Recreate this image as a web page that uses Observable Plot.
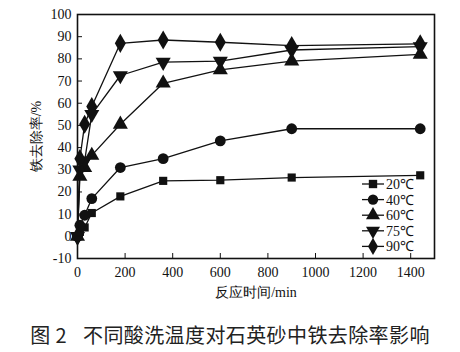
<!DOCTYPE html>
<html>
<head>
<meta charset="utf-8">
<script src="https://cdn.jsdelivr.net/npm/d3@7"></script>
<script src="https://cdn.jsdelivr.net/npm/@observablehq/plot@0.6"></script>
<style>
  body { margin: 0; background: #fff; }
  #chart { width: 460px; }
  #chart svg, #chart svg text { font-family: 'Liberation Serif', 'Times New Roman', serif !important; }
  .caption { font-family: "Noto Sans CJK SC", sans-serif; font-size: 20px; color: #222; text-align: center; padding-top: 15px; letter-spacing: 0.4px; }
</style>
</head>
<body>
<div id="chart"></div>
<script>
const times = [0, 10, 30, 60, 180, 360, 600, 900, 1440];
const seriesNames = ["20℃", "40℃", "60℃", "75℃", "90℃"];
const v20 = [0, 2, 4, 10.5, 18, 25, 25.3, 26.5, 27.5];
const v40 = [0, 5, 9.5, 17, 31, 35, 43, 48.5, 48.5];
const v60 = [0, 27, 31, 36.5, 50.5, 69, 75, 79, 82];
const v75 = [0, 30, 34, 55, 72.5, 78.5, 79, 84, 85.5];
const v90 = [0, 35, 50.5, 58.5, 87, 88.5, 87.5, 86, 86.8];
const xTicks = [0, 200, 400, 600, 800, 1000, 1200, 1400];
const yTicks = [-10, 0, 10, 20, 30, 40, 50, 60, 70, 80, 90, 100];
const xLabel = "反应时间/min";
const yLabel = "铁去除率/%";
const captionNum = "图 2";
const captionText = "不同酸洗温度对石英砂中铁去除率影响";

const allValues = [v20, v40, v60, v75, v90];
const symbols = ["square", "circle", "triangle", "triangle", "diamond"];
const rotates = [0, 0, 0, 180, 0];
const sizes = [4.6, 5.4, 5.6, 5.6, 5.8];
const FONT = "'Liberation Serif', 'Times New Roman', serif";

const rows = [];
allValues.forEach((vals, i) => vals.forEach((v, j) => rows.push({series: seriesNames[i], t: times[j], v})));

const marks = [Plot.frame({stroke: "#111", strokeWidth: 1.6})];
seriesNames.forEach((s, i) => {
  const d = rows.filter(r => r.series === s);
  marks.push(Plot.line(d, {x: "t", y: "v", stroke: "#111", strokeWidth: 1.3}));
  marks.push(Plot.dot(d, {x: "t", y: "v", symbol: () => symbols[i], rotate: rotates[i], r: sizes[i], fill: "#111", stroke: "none"}));
});
marks.push(Plot.axisX({ticks: xTicks, tickFormat: d => String(d), tickSize: -5, tickPadding: 14, fontSize: 14, fontFamily: FONT, label: xLabel, labelAnchor: "center", labelOffset: 38, labelArrow: "none"}));
marks.push(Plot.axisY({ticks: yTicks, tickFormat: d => String(d), tickSize: -5, tickPadding: 11, fontSize: 14, fontFamily: FONT, label: yLabel, labelAnchor: "center", labelOffset: 46, labelArrow: "none"}));

const plot = Plot.plot({
  width: 460,
  height: 305,
  marginLeft: 77,
  marginRight: 26,
  marginTop: 14,
  marginBottom: 47,
  style: {fontSize: "14px", color: "#111", background: "#fff"},
  x: {domain: [0, 1500]},
  y: {domain: [-10, 100]},
  marks
});

// legend inside the plot, lower right
const svg = d3.select(plot);
const legX = 362, legY0 = 184, legDy = 15.6;
const g = svg.append("g").attr("text-anchor", "start");
seriesNames.forEach((s, i) => {
  const y = legY0 + i * legDy;
  g.append("line").attr("x1", legX).attr("x2", legX + 22).attr("y1", y).attr("y2", y).attr("stroke", "#111").attr("stroke-width", 1.3);
  const sym = d3.symbol().type(i === 0 ? d3.symbolSquare : i === 1 ? d3.symbolCircle : i === 4 ? d3.symbolDiamond : d3.symbolTriangle).size(i === 0 ? 70 : 85);
  g.append("path").attr("d", sym()).attr("fill", "#111")
    .attr("transform", `translate(${legX + 11},${y})` + (i === 3 ? " rotate(180)" : ""));
  g.append("text").attr("x", legX + 24).attr("y", y).attr("dy", "0.35em")
    .attr("font-size", 14).attr("fill", "#111").text(s);
});
svg.attr("font-family", FONT);
svg.selectAll("text").attr("font-family", FONT).style("font-size", "14px");

document.getElementById("chart").appendChild(plot);
const cap = document.createElement("div");
cap.className = "caption";
cap.innerHTML = `<span>${captionNum}</span><span style="margin-left:16px">${captionText}</span>`;
document.getElementById("chart").appendChild(cap);
</script>
</body>
</html>
